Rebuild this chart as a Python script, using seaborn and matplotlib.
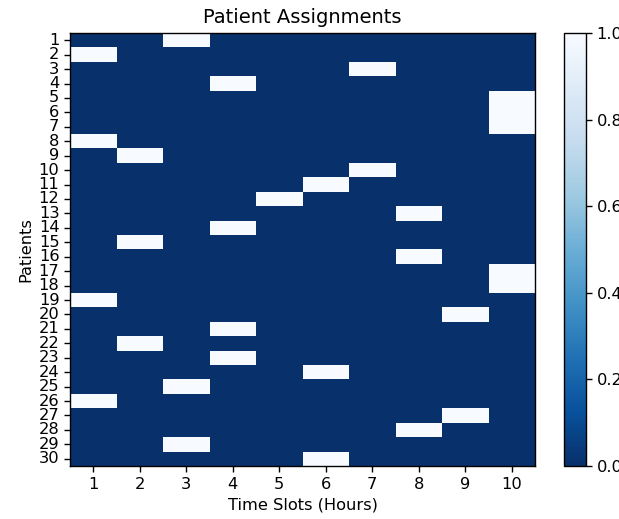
import numpy as np
import matplotlib
matplotlib.use("Agg")
import matplotlib.pyplot as plt
import seaborn as sns

# time slot (1-10) assigned to each patient, patients 1..30
patients = list(range(1, 31))
time_slots = list(range(1, 11))
assigned_slot = [3, 1, 7, 4, 10, 10, 10, 1, 2, 7,
                 6, 5, 8, 4, 2, 8, 10, 10, 1, 9,
                 4, 2, 4, 6, 3, 1, 9, 8, 3, 6]

grid = np.zeros((len(patients), len(time_slots)))
for i, s in enumerate(assigned_slot):
    grid[i, time_slots.index(s)] = 1

fs = 11.7

fig = plt.figure(figsize=(6.19, 5.19), dpi=100)
ax = fig.add_axes([70 / 619, 53 / 519, 465 / 619, 433 / 519])
cax = fig.add_axes([564 / 619, 53 / 519, 22 / 619, 433 / 519])

sns.heatmap(grid, ax=ax, cbar_ax=cax, cmap="Blues_r", vmin=0, vmax=1,
            xticklabels=time_slots, yticklabels=patients)

for sp in ax.spines.values():
    sp.set_visible(True)
    sp.set_linewidth(1.0)
cbar = ax.collections[0].colorbar
cbar.outline.set_linewidth(1.0)
cbar.outline.set_edgecolor("black")
cbar.set_ticks([0, 0.2, 0.4, 0.6, 0.8, 1.0])
cbar.set_ticklabels(["0.0", "0.2", "0.4", "0.6", "0.8", "1.0"])
cax.tick_params(labelsize=fs, length=4.1, width=1.0)

ax.tick_params(axis="y", rotation=0, labelsize=fs, length=4.1, width=1.0)
ax.tick_params(axis="x", rotation=0, labelsize=fs, length=4.1, width=1.0)
ax.set_title("Patient Assignments", fontsize=14, pad=7)
ax.set_xlabel("Time Slots (Hours)", fontsize=fs, labelpad=4)
ax.set_ylabel("Patients", fontsize=fs, labelpad=4)

fig.savefig("out.png", dpi=100)
